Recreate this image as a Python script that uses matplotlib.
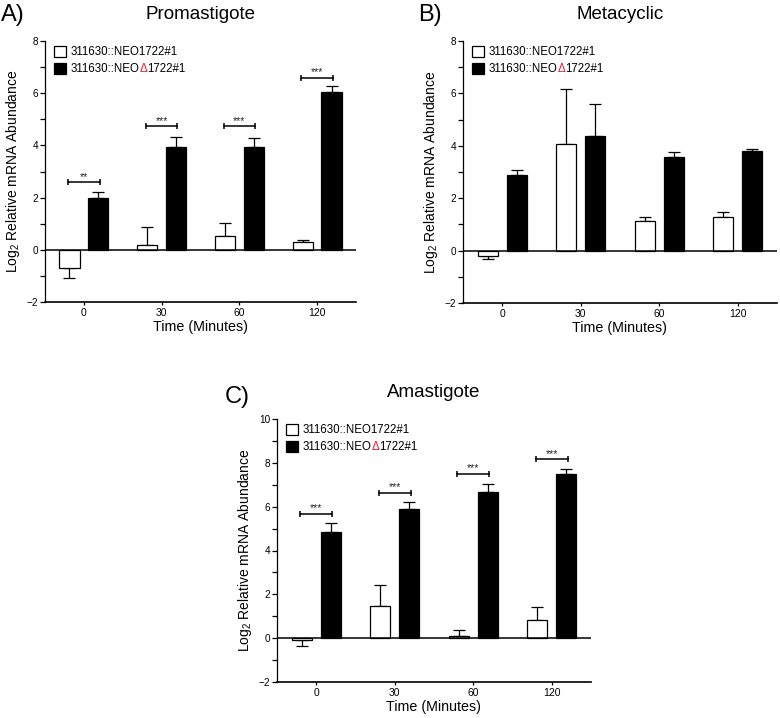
import matplotlib
matplotlib.use('Agg')
import matplotlib.pyplot as plt
import numpy as np
from matplotlib.patches import Patch
from matplotlib.ticker import MultipleLocator

plt.rcParams['font.family'] = ['Liberation Sans', 'DejaVu Sans']
plt.rcParams['mathtext.fontset'] = 'custom'
plt.rcParams['mathtext.rm'] = 'Liberation Sans'
plt.rcParams['mathtext.it'] = 'Liberation Sans:italic'
plt.rcParams['mathtext.bf'] = 'Liberation Sans:bold'

# ---------------- data ----------------
times = ['0', '30', '60', '120']
wt_name = '311630::NEO1722#1'
ko_name_pre = '311630::NEO'
ko_name_delta = 'Δ'
ko_name_post = '1722#1'

pro_wt = [-0.68, 0.17, 0.52, 0.28]
pro_wt_err = [0.41, 0.69, 0.50, 0.10]
pro_ko = [1.98, 3.93, 3.92, 6.03]
pro_ko_err = [0.22, 0.40, 0.37, 0.24]
pro_sig = ['**', '***', '***', '***']
pro_sig_y = [2.58, 4.73, 4.73, 6.60]

meta_wt = [-0.20, 4.05, 1.13, 1.30]
meta_wt_err = [0.12, 2.13, 0.14, 0.17]
meta_ko = [2.87, 4.39, 3.59, 3.80]
meta_ko_err = [0.19, 1.21, 0.16, 0.09]

ama_wt = [-0.08, 1.46, 0.12, 0.85]
ama_wt_err = [0.29, 0.96, 0.25, 0.55]
ama_ko = [4.86, 5.88, 6.66, 7.48]
ama_ko_err = [0.40, 0.34, 0.37, 0.23]
ama_sig = ['***', '***', '***', '***']
ama_sig_y = [5.67, 6.62, 7.50, 8.16]

W, H = 780, 718
fig = plt.figure(figsize=(W / 100, H / 100), dpi=100)


def one_sided(vals, errs):
    v = np.asarray(vals, float)
    e = np.asarray(errs, float)
    return [np.where(v < 0, e, 0.0), np.where(v >= 0, e, 0.0)]


def panel(px_left, px_right, px_top, px_bottom, ylim, letter, letter_xy, title,
          wt, wt_err, ko, ko_err, sig=None, sig_y=None):
    rect = [px_left / W, 1 - px_bottom / H, (px_right - px_left) / W,
            (px_bottom - px_top) / H]
    ax = fig.add_axes(rect)
    x = np.arange(len(times))
    w = 0.26
    off = 0.185
    ax.errorbar(x - off, wt, yerr=one_sided(wt, wt_err), fmt='none', ecolor='black',
                elinewidth=0.9, capsize=4, capthick=0.9, zorder=1)
    ax.errorbar(x + off, ko, yerr=one_sided(ko, ko_err), fmt='none', ecolor='black',
                elinewidth=0.9, capsize=4, capthick=0.9, zorder=1)
    ax.bar(x - off, wt, w, color='white', edgecolor='black', linewidth=0.9, zorder=2)
    ax.bar(x + off, ko, w, color='black', edgecolor='black', linewidth=0.9, zorder=2)
    ax.axhline(0, color='black', lw=1.1, zorder=3)

    if sig is not None:
        for xi, s, yy in zip(x, sig, sig_y):
            bx = [xi - off * 1.1, xi + off * 1.1]
            ax.plot(bx, [yy, yy], color='black', lw=1.1, zorder=3,
                    marker='|', markersize=5, markeredgewidth=1.1)
            ax.annotate(s, xy=(xi, yy), xytext=(0, 0.5), textcoords='offset points',
                        ha='center', va='bottom', fontsize=7.5, color='#222222')

    ax.set_xlim(-0.5, 3.5)
    ax.set_ylim(*ylim)
    ax.set_xticks(x)
    ax.set_xticklabels(times)
    ax.yaxis.set_major_locator(MultipleLocator(2))
    ax.yaxis.set_minor_locator(MultipleLocator(1))
    for s in ['top', 'right']:
        ax.spines[s].set_visible(False)
    ax.spines['left'].set_linewidth(0.9)
    ax.spines['bottom'].set_linewidth(1.2)
    ax.tick_params(axis='y', which='both', length=3.5, width=0.9, labelsize=7.2, pad=1.5)
    ax.tick_params(axis='x', which='both', length=2.5, width=0.9, labelsize=7.5, pad=2)
    ax.set_ylabel(r'Log$_2$ Relative mRNA Abundance', fontsize=10, labelpad=3)
    ax.set_xlabel('Time (Minutes)', fontsize=10.3, labelpad=1)
    ax.set_title(title, fontsize=13.5, pad=16)
    fig.text(letter_xy[0] / W, 1 - letter_xy[1] / H, letter, fontsize=17, va='baseline')

    handles = [Patch(facecolor='white', edgecolor='black', linewidth=0.9),
               Patch(facecolor='black', edgecolor='black', linewidth=0.9)]
    axw = px_right - px_left
    axh = px_bottom - px_top
    leg = ax.legend(handles, [wt_name, ko_name_pre], loc='upper left',
                    bbox_to_anchor=(9 / axw, 1 - 5 / axh), frameon=False,
                    fontsize=8.3, handlelength=1.05, handleheight=1.05,
                    handletextpad=0.4, labelspacing=0.4, borderpad=0,
                    borderaxespad=0)
    t2 = leg.get_texts()[1]
    a1 = ax.annotate(ko_name_delta, xy=(1, 0), xycoords=t2,
                     ha='left', va='bottom',
                     fontsize=8.3, color='#e8202a', zorder=6)
    ax.annotate(ko_name_post, xy=(1, 0), xycoords=a1,
                ha='left', va='bottom',
                fontsize=8.3, color='black', zorder=7)
    return ax


panel(45, 356, 41, 302, (-2, 8), 'A)', (1, 21), 'Promastigote',
      pro_wt, pro_wt_err, pro_ko, pro_ko_err, pro_sig, pro_sig_y)
panel(463, 777, 41, 303, (-2, 8), 'B)', (418, 21), 'Metacyclic',
      meta_wt, meta_wt_err, meta_ko, meta_ko_err)
panel(277, 591, 419, 682, (-2, 10), 'C)', (225, 403), 'Amastigote',
      ama_wt, ama_wt_err, ama_ko, ama_ko_err, ama_sig, ama_sig_y)

fig.canvas.draw()
fig.savefig('out.png', dpi=100)
